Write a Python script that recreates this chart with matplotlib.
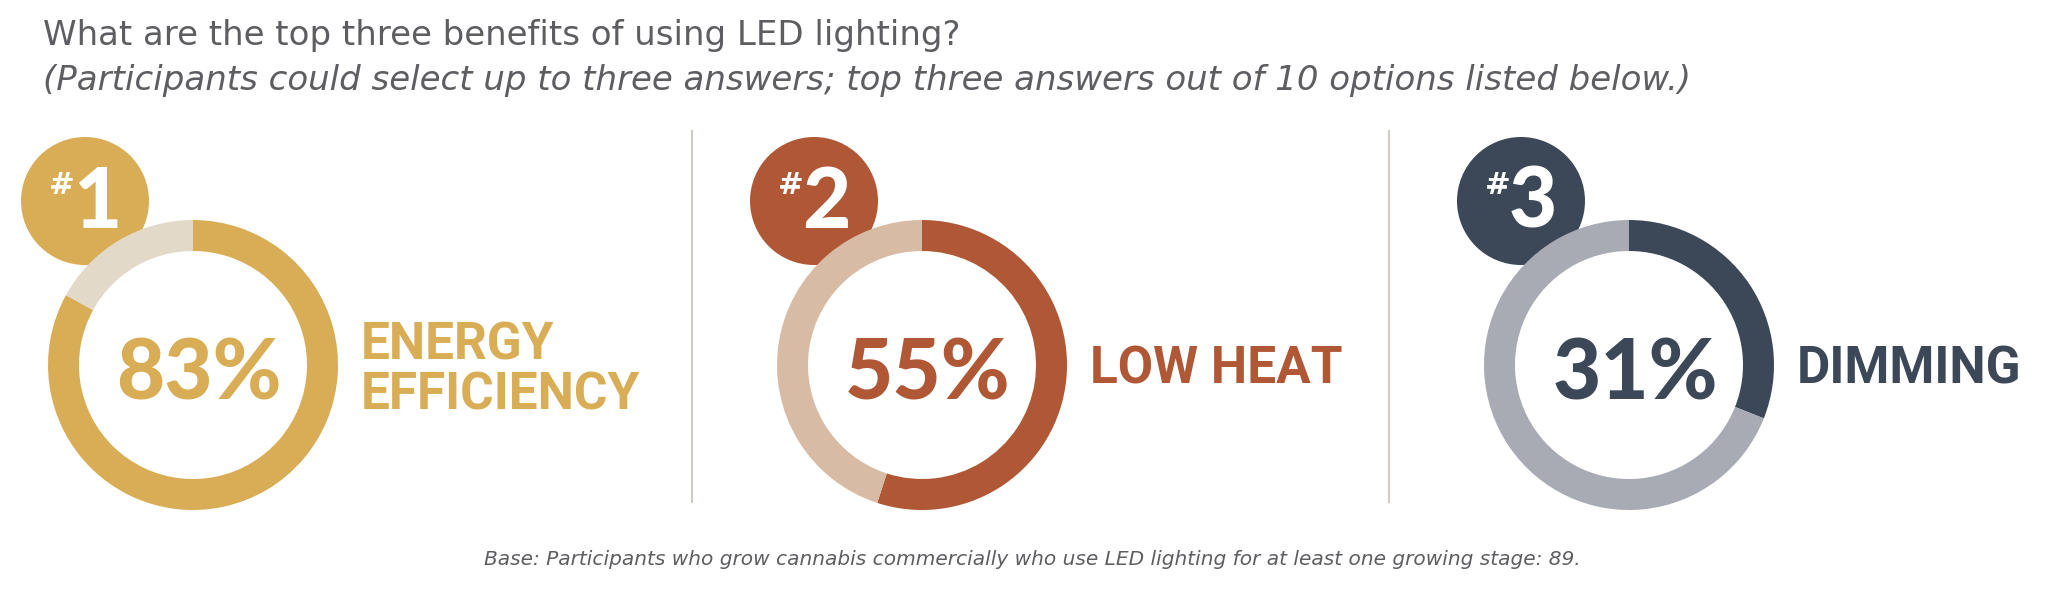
import matplotlib
matplotlib.use('Agg')
import matplotlib.pyplot as plt
from matplotlib.patches import Circle

# data
ranks = ['#1', '#2', '#3']
benefits = ['ENERGY\nEFFICIENCY', 'LOW HEAT', 'DIMMING']
shares = [83, 55, 31]
main_colors = ['#D9AD56', '#B05836', '#3C4858']
rest_colors = ['#E3D9C8', '#D8BBA5', '#A8ABB4']

title = 'What are the top three benefits of using LED lighting?'
subtitle = ('(Participants could select up to three answers; '
            'top three answers out of 10 options listed below.)')
footer = ('Base: Participants who grow cannabis commercially who use LED '
          'lighting for at least one growing stage: 89.')

W, H = 2048, 602
centers_x = [193, 922, 1629]
center_y = 365
radius = 145
ring = 31
dividers_x = [692, 1389]
grey = '#5E5E62'


def Y(y):
    # pixel-from-top -> data y
    return H - y


fig = plt.figure(figsize=(W / 100, H / 100), dpi=100)
ax = fig.add_axes([0, 0, 1, 1])

for i in range(3):
    cx = centers_x[i]
    # rank badge behind the ring
    ax.add_patch(Circle((cx - 108, Y(center_y - 164)), 64,
                        color=main_colors[i], zorder=1, lw=0))
    ax.text(cx - 131, Y(center_y - 179), '#', color='white', fontsize=22,
            fontweight='bold', family='DejaVu Sans', ha='center', va='center', zorder=5)
    ax.text(cx - 96, Y(center_y - 162), ranks[i][1], color='white', fontsize=60,
            fontweight='black', family='Lato', ha='center', va='center', zorder=5)

    wedges, _ = ax.pie([shares[i], 100 - shares[i]],
                       colors=[main_colors[i], rest_colors[i]],
                       startangle=90, counterclock=False,
                       radius=radius, center=(cx, Y(center_y)),
                       wedgeprops=dict(width=ring, edgecolor='none', linewidth=0),
                       frame=True)
    for w in wedges:
        w.set_zorder(3)
    # white inner disc
    ax.add_patch(Circle((cx, Y(center_y)), radius - ring, color='white', zorder=2))

    ax.text(cx + 6, Y(center_y + 10), f'{shares[i]}%', color=main_colors[i],
            fontsize=60, fontweight='black', family='Lato',
            ha='center', va='center', zorder=5)
    ax.text(cx + 168, Y(center_y + 5), benefits[i], color=main_colors[i],
            fontsize=37, fontweight='bold', family='Roboto',
            ha='left', va='center', linespacing=1.0, zorder=5)

for dx in dividers_x:
    ax.plot([dx, dx], [Y(131), Y(502)], color='#D3CBC3', lw=1.5, zorder=1)

ax.text(43, Y(45), title, color=grey, fontsize=24.5, family='DejaVu Sans',
        ha='left', va='baseline')
ax.text(43, Y(90), subtitle, color=grey, fontsize=24.5, family='DejaVu Sans',
        style='italic', ha='left', va='baseline')
ax.text(1032, Y(565), footer, color=grey, fontsize=14.5, family='DejaVu Sans',
        style='italic', ha='center', va='baseline')

ax.set_xlim(0, W)
ax.set_ylim(0, H)
ax.set_aspect('equal')
ax.axis('off')

fig.savefig('out.png', dpi=100, facecolor='white')
